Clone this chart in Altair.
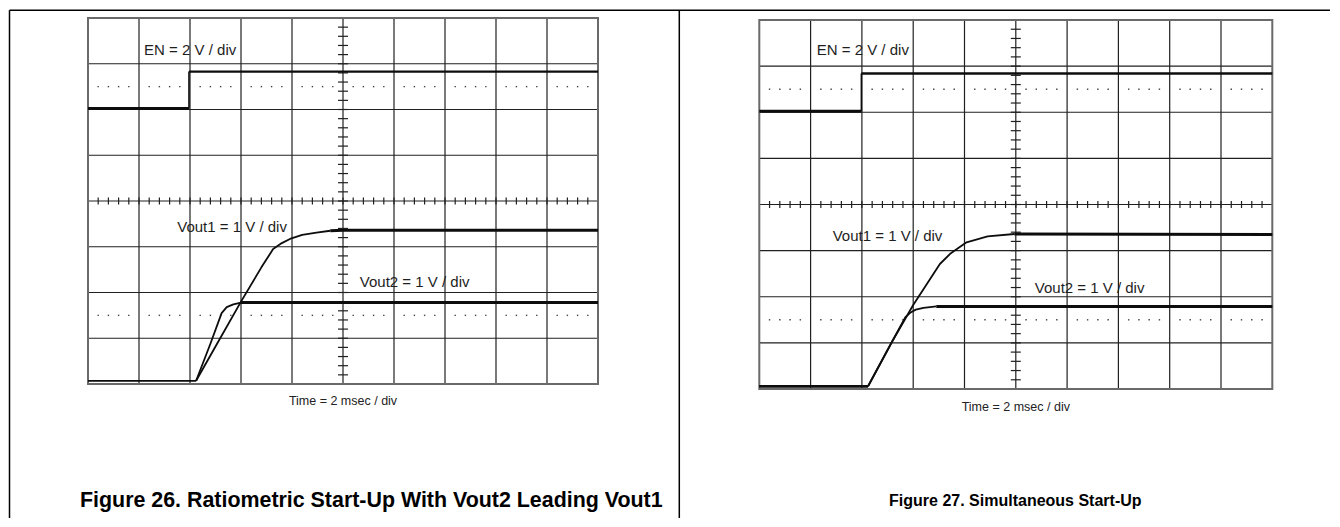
import altair as alt
import pandas as pd

# ---------------- data (oscilloscope divisions) ----------------
X_DIVS = 10
Y_DIVS = 8
TIME_TITLE = "Time = 2 msec / div"
LABEL_TEXT = ["EN = 2 V / div", "Vout1 = 1 V / div", "Vout2 = 1 V / div"]
CAPTION_26 = "Figure 26. Ratiometric Start-Up With Vout2 Leading Vout1"
CAPTION_27 = "Figure 27. Simultaneous Start-Up"

# Figure 26
FIG26_EN_T = [0.0, 1.98, 1.98, 10.0]
FIG26_EN_V = [6.02, 6.02, 6.83, 6.83]
FIG26_VOUT1_T = [0.0, 2.12, 2.5, 3.0, 3.4, 3.63, 3.8, 3.96, 4.2, 4.48, 4.75, 5.0, 10.0]
FIG26_VOUT1_V = [0.07, 0.07, 0.82, 1.80, 2.55, 2.95, 3.08, 3.17, 3.26, 3.31, 3.35, 3.36, 3.36]
FIG26_VOUT2_T = [0.0, 2.12, 2.4, 2.62, 2.72, 2.85, 3.0, 10.0]
FIG26_VOUT2_V = [0.07, 0.07, 0.88, 1.55, 1.68, 1.74, 1.78, 1.78]
FIG26_LABEL_T = [1.10, 1.75, 5.33]
FIG26_LABEL_V = [7.31, 3.43, 2.23]

# Figure 27
FIG27_EN_T = [0.0, 1.99, 1.99, 10.0]
FIG27_EN_V = [6.02, 6.02, 6.84, 6.84]
FIG27_VOUT1_T = [0.0, 2.12, 2.59, 3.0, 3.52, 3.72, 4.04, 4.45, 4.97, 10.0]
FIG27_VOUT1_V = [0.06, 0.06, 1.03, 1.82, 2.71, 2.93, 3.18, 3.31, 3.36, 3.35]
FIG27_VOUT2_T = [0.0, 2.12, 2.59, 2.85, 2.95, 3.05, 3.2, 3.45, 10.0]
FIG27_VOUT2_V = [0.06, 0.06, 1.03, 1.56, 1.66, 1.72, 1.76, 1.79, 1.79]
FIG27_LABEL_T = [1.12, 1.43, 5.37]
FIG27_LABEL_V = [7.35, 3.31, 2.18]

FONT = "Liberation Sans"
GRID = "#202020"
INK = "#0d0d0d"


def trace_rows(name, ts, vs, widths):
    final = vs[-1]
    settle = next(i for i in range(1, len(vs)) if abs(vs[i] - final) < 0.03)
    rows = []
    for seg, a, b in (("base", 0, 1), ("rise", 1, settle), ("top", settle, len(vs) - 1)):
        for i in range(a, b + 1):
            rows.append({"t": ts[i], "v": vs[i], "key": f"{name}-{seg}", "i": i,
                         "w": widths[seg]})
    return rows


def panel(en, v1, v2, lab_t, lab_v, width, height, yrange, base_w, caption,
          cap_x, cap_align, cap_size, time_y, frame):
    xs = alt.Scale(domain=[0, X_DIVS], nice=False, zero=False)
    ys = alt.Scale(domain=[0, Y_DIVS], nice=False, zero=False, range=yrange)

    def X(f):
        return alt.X(f, type="quantitative", scale=xs, axis=None)

    def Y(f):
        return alt.Y(f, type="quantitative", scale=ys, axis=None)

    one = pd.DataFrame({"k": [0]})

    vlines = pd.DataFrame({"x": list(range(1, X_DIVS))})
    hlines = pd.DataFrame({"y": list(range(1, Y_DIVS))})
    g_v = alt.Chart(vlines).mark_rule(color=GRID, strokeWidth=1.2).encode(
        x=X("x:Q"), y=alt.YDatum(0, scale=ys, axis=None), y2=alt.datum(Y_DIVS))
    g_h = alt.Chart(hlines).mark_rule(color=GRID, strokeWidth=1.2).encode(
        y=Y("y:Q"), x=alt.XDatum(0, scale=xs, axis=None), x2=alt.datum(X_DIVS))
    border = alt.Chart(one).mark_rect(fillOpacity=0, stroke="#6a6a6a", strokeWidth=2).encode(
        x=alt.XDatum(0, scale=xs, axis=None), x2=alt.datum(X_DIVS),
        y=alt.YDatum(0, scale=ys, axis=None), y2=alt.datum(Y_DIVS))

    minor = [k / 5 for k in range(1, X_DIVS * 5) if k % 5]
    dots = pd.DataFrame([{"x": x, "y": y} for y in (1.5, 6.5) for x in minor])
    g_dots = alt.Chart(dots).mark_square(size=2, color="#444444", opacity=1).encode(
        x=X("x:Q"), y=Y("y:Q"))

    vt = pd.DataFrame({"y": [k / 5 for k in range(1, Y_DIVS * 5)], "x": X_DIVS / 2})
    ht = pd.DataFrame({"x": [k / 5 for k in range(1, X_DIVS * 5)], "y": Y_DIVS / 2})
    t_v = alt.Chart(vt).mark_tick(orient="horizontal", size=10, thickness=1.2,
                                  color=GRID, opacity=1).encode(x=X("x:Q"), y=Y("y:Q"))
    t_h = alt.Chart(ht).mark_tick(orient="vertical", size=7, thickness=1.2,
                                  color=GRID, opacity=1).encode(x=X("x:Q"), y=Y("y:Q"))

    rows = []
    rows += trace_rows("en", en[0], en[1], {"base": 3.0, "rise": 1.6, "top": 2.3})
    rows += trace_rows("v1", v1[0], v1[1], {"base": base_w, "rise": 1.8, "top": 3.0})
    rows += trace_rows("v2", v2[0], v2[1], {"base": base_w, "rise": 1.8, "top": 3.0})
    traces = alt.Chart(pd.DataFrame(rows)).mark_line(color=INK, strokeCap="butt",
                                                     strokeJoin="round").encode(
        x=X("t:Q"), y=Y("v:Q"), detail="key:N", order="i:Q",
        strokeWidth=alt.StrokeWidth("w:Q", scale=None))

    labels = pd.DataFrame({"t": lab_t, "v": lab_v, "txt": LABEL_TEXT})
    g_lab = alt.Chart(labels).mark_text(align="left", baseline="middle", font=FONT,
                                        fontSize=15, color="#1e1e1e").encode(
        x=X("t:Q"), y=Y("v:Q"), text="txt:N")

    time_lab = alt.Chart(one).mark_text(align="center", baseline="middle", font=FONT,
                                        fontSize=12.5, color="#222222",
                                        text=TIME_TITLE).encode(
        x=alt.value(width / 2), y=alt.value(time_y))

    cap = alt.Chart(one).mark_text(align=cap_align, baseline="middle", font=FONT,
                                   fontSize=cap_size, fontWeight="bold", color="#000000",
                                   text=caption).encode(
        x=alt.value(cap_x), y=alt.value(483))

    layers = [g_v, g_h, g_dots, t_v, t_h, border, traces, g_lab, time_lab, cap]
    if frame:
        fr = dict(color="#000000", strokeWidth=1.5)
        layers += [
            alt.Chart(one).mark_rule(**fr).encode(x=alt.value(-78.5), x2=alt.value(1242),
                                                  y=alt.value(-7.8)),
            alt.Chart(one).mark_rule(**fr).encode(x=alt.value(-78.5), y=alt.value(-7.8),
                                                  y2=alt.value(500)),
            alt.Chart(one).mark_rule(**fr).encode(x=alt.value(591.3), y=alt.value(-7.8),
                                                  y2=alt.value(500)),
        ]
    return alt.layer(*layers).properties(width=width, height=height)


left = panel((FIG26_EN_T, FIG26_EN_V), (FIG26_VOUT1_T, FIG26_VOUT1_V),
             (FIG26_VOUT2_T, FIG26_VOUT2_V), FIG26_LABEL_T, FIG26_LABEL_V,
             510, 366, [366, 0], 1.6, CAPTION_26, -8, "left", 21.4, 382.7, True)
right = panel((FIG27_EN_T, FIG27_EN_V), (FIG27_VOUT1_T, FIG27_VOUT1_V),
              (FIG27_VOUT2_T, FIG27_VOUT2_V), FIG27_LABEL_T, FIG27_LABEL_V,
              513, 371, [371, 2], 2.6, CAPTION_27, 256, "center", 16, 388.7, False)

chart = alt.hconcat(left, right, spacing=161.3, bounds="flush").properties(
    padding=0, background="white"
).configure_view(stroke="transparent")

chart.save("out.html", embed_options={"renderer": "svg", "actions": False})
